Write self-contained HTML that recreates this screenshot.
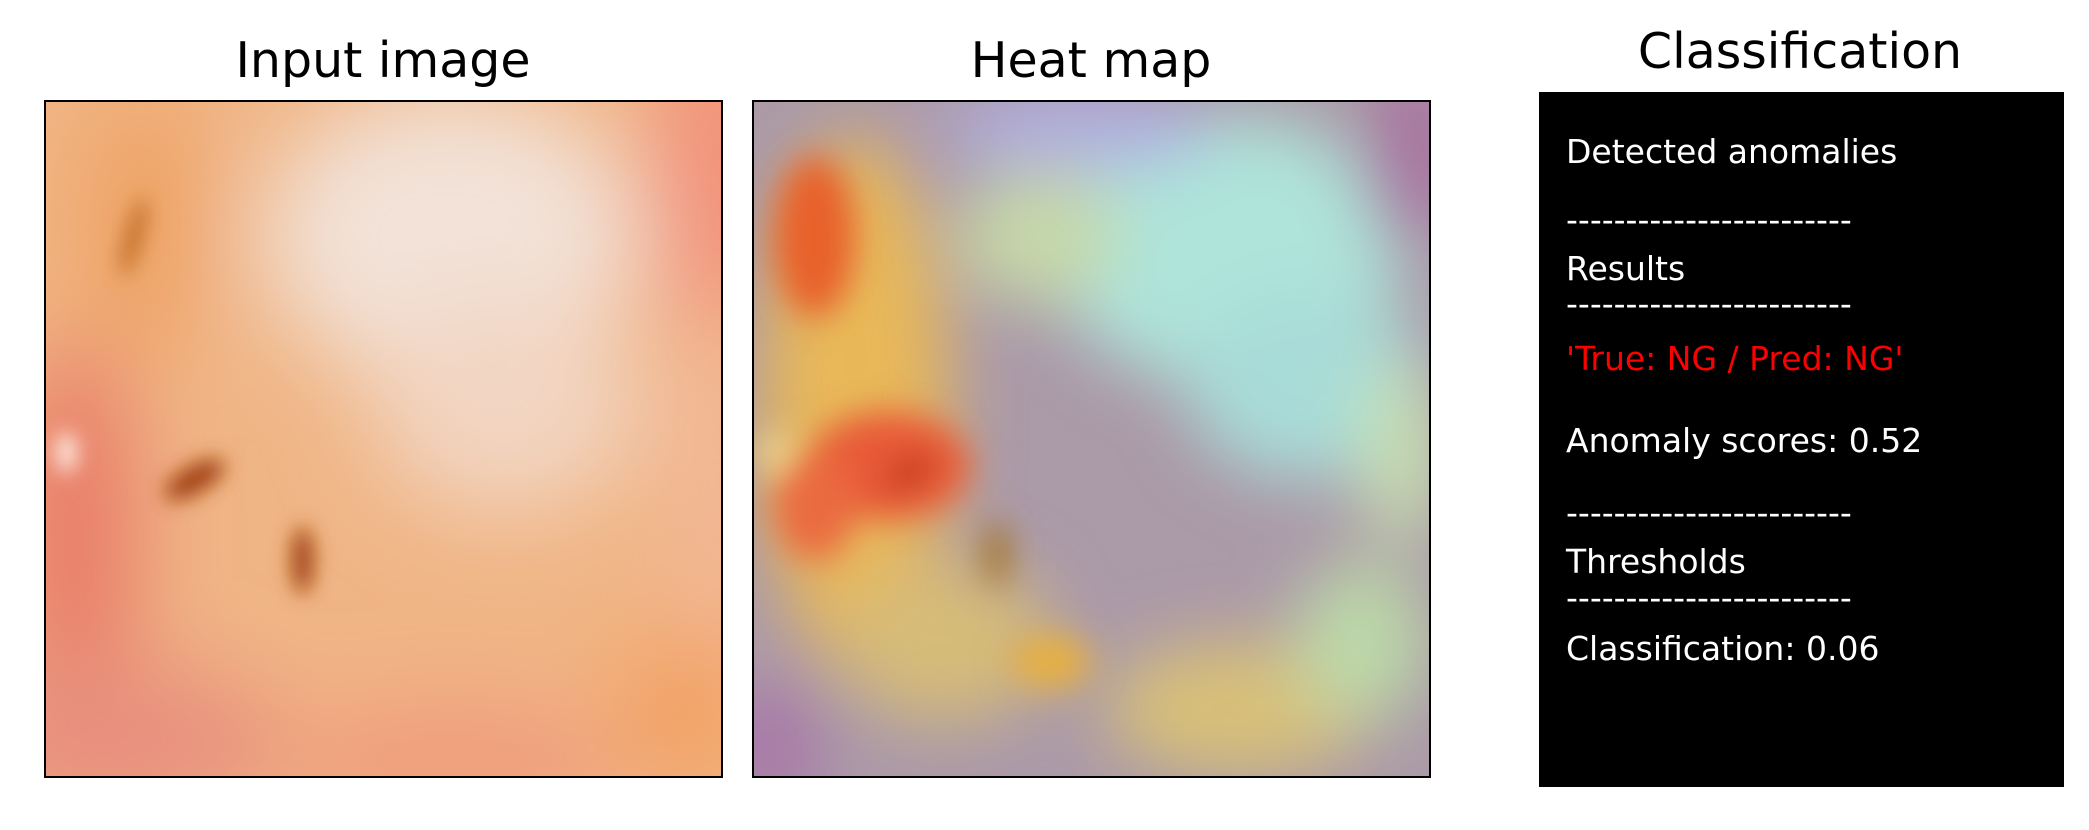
<!DOCTYPE html>
<html><head><meta charset="utf-8"><style>
html,body{margin:0;padding:0;background:#fff;}
#root{position:relative;width:2089px;height:830px;overflow:hidden;font-family:"DejaVu Sans","Liberation Sans",sans-serif;}
.title{position:absolute;font-size:49px;color:#000;white-space:nowrap;transform:translateX(-50%);line-height:1;}
.panel{position:absolute;box-sizing:border-box;border:2px solid #000;overflow:hidden;}
.t{position:absolute;left:1566px;font-size:33px;color:#fff;white-space:nowrap;line-height:1;}
</style></head><body>
<div id="root">
<div class="title" style="left:383px;top:36px;">Input image</div>
<div class="title" style="left:1091px;top:36px;">Heat map</div>
<div class="title" style="left:1800px;top:27px;">Classification</div>

<div class="panel" style="left:44px;top:100px;width:679px;height:678px;">
<svg width="100%" height="100%" viewBox="0 0 100 100" preserveAspectRatio="none">
<defs><filter id="b1" x="-50%" y="-50%" width="200%" height="200%"><feGaussianBlur stdDeviation="7"/></filter>
<filter id="b2" x="-50%" y="-50%" width="200%" height="200%"><feGaussianBlur stdDeviation="1.5"/></filter></defs>
<rect width="100" height="100" fill="#f0b585"/>
<g filter="url(#b1)">
<ellipse cx="60" cy="20" rx="28" ry="22" fill="#f2e2d8"/>
<ellipse cx="68" cy="45" rx="20" ry="16" fill="#f2d5c2"/>
<ellipse cx="100" cy="10" rx="10" ry="25" fill="#f2907a"/>
<ellipse cx="100" cy="60" rx="6" ry="30" fill="#f3b89a"/>
<ellipse cx="4" cy="65" rx="9" ry="30" fill="#e87868"/>
<ellipse cx="10" cy="95" rx="25" ry="12" fill="#e8907e"/>
<ellipse cx="60" cy="98" rx="25" ry="8" fill="#f09a7c"/>
<ellipse cx="95" cy="90" rx="10" ry="12" fill="#f3a060"/>
<ellipse cx="14" cy="18" rx="8" ry="20" fill="#eea060"/>
</g>
<g filter="url(#b2)">
<ellipse cx="22" cy="56" rx="5" ry="2" fill="#a04010" transform="rotate(-30 22 56)"/>
<ellipse cx="38" cy="68" rx="1.6" ry="5" fill="#a04010"/>
<ellipse cx="13" cy="20" rx="1.2" ry="6" fill="#c06a20" transform="rotate(15 13 20)"/>
<ellipse cx="3" cy="52" rx="1.5" ry="3" fill="#fff0e8"/>
</g>
</svg></div>

<div class="panel" style="left:752px;top:100px;width:679px;height:678px;">
<svg width="100%" height="100%" viewBox="0 0 100 100" preserveAspectRatio="none">
<defs><filter id="h1" x="-50%" y="-50%" width="200%" height="200%"><feGaussianBlur stdDeviation="5"/></filter>
<filter id="h2" x="-50%" y="-50%" width="200%" height="200%"><feGaussianBlur stdDeviation="2.5"/></filter></defs>
<rect width="100" height="100" fill="#ab9aa8"/>
<g filter="url(#h1)">
<ellipse cx="70" cy="22" rx="26" ry="20" fill="#aee4da"/>
<ellipse cx="82" cy="42" rx="18" ry="14" fill="#a8dcd8"/>
<ellipse cx="42" cy="20" rx="12" ry="10" fill="#c6d8a8"/>
<ellipse cx="48" cy="4" rx="20" ry="6" fill="#b0aee0"/>
<ellipse cx="98" cy="8" rx="8" ry="14" fill="#a875a0"/>
<ellipse cx="96" cy="52" rx="6" ry="14" fill="#c8e0b0"/>
<ellipse cx="2" cy="96" rx="8" ry="10" fill="#a878a8"/>
<ellipse cx="15" cy="45" rx="14" ry="40" fill="#e8b858"/>
<ellipse cx="28" cy="80" rx="16" ry="12" fill="#d6bb78"/>
<ellipse cx="72" cy="90" rx="20" ry="10" fill="#d8c078"/>
<ellipse cx="90" cy="80" rx="10" ry="12" fill="#bcd8a8"/>
</g>
<g filter="url(#h2)">
<ellipse cx="9" cy="20" rx="6" ry="12" fill="#e8602a"/>
<ellipse cx="20" cy="54" rx="12" ry="8" fill="#e85a38"/>
<ellipse cx="9" cy="60" rx="6" ry="8" fill="#ea6a40"/>
<ellipse cx="44" cy="83" rx="6" ry="4" fill="#e8b040"/>
<ellipse cx="3" cy="52" rx="1.5" ry="3" fill="#fff0a0"/>
<ellipse cx="36" cy="67" rx="1.4" ry="5" fill="#9a6010"/>
<ellipse cx="23" cy="55" rx="4" ry="1.8" fill="#b83010" transform="rotate(-30 23 55)"/>
</g>
</svg></div>

<div style="position:absolute;left:1539px;top:92px;width:525px;height:695px;background:#000;"></div>
<div class="t" style="top:135px;">Detected anomalies</div>
<div class="t" style="top:203px;">------------------------</div>
<div class="t" style="top:252px;">Results</div>
<div class="t" style="top:287px;">------------------------</div>
<div class="t" style="top:342px;color:#ff0000;">'True: NG / Pred: NG'</div>
<div class="t" style="top:424px;">Anomaly scores: 0.52</div>
<div class="t" style="top:496px;">------------------------</div>
<div class="t" style="top:545px;">Thresholds</div>
<div class="t" style="top:581px;">------------------------</div>
<div class="t" style="top:632px;">Classification: 0.06</div>
</div>
</body></html>
